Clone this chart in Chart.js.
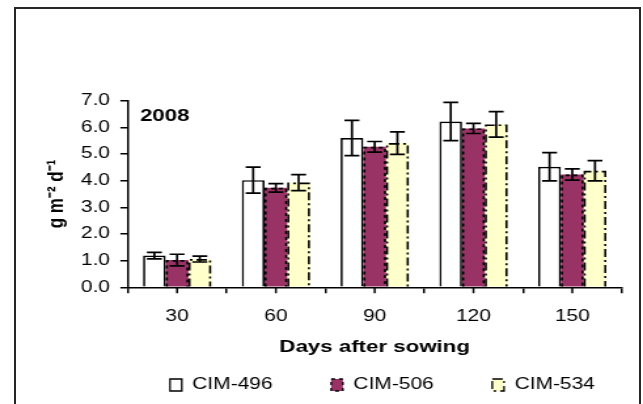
<!DOCTYPE html>
<html>
<head>
<meta charset="utf-8">
<script src="https://cdn.jsdelivr.net/npm/chart.js@4/dist/chart.umd.min.js"></script>
<style>
  html, body { margin: 0; padding: 0; background: #fff; }
  #wrap { position: relative; width: 643px; height: 404px; overflow: hidden; background: #fff; }
  #c { position: absolute; left: 0; top: 0; transform: scaleX(1.30957); transform-origin: 0 0; }
  #frame { position: absolute; left: 14px; top: 7px; width: 627px; height: 430px; border: 2px solid #262626; box-sizing: border-box; pointer-events: none; }
</style>
</head>
<body>
<div id="wrap">
  <canvas id="c" width="491" height="404"></canvas>
  <div id="frame"></div>
</div>
<script>
// ---- data ----
const categories = ['30', '60', '90', '120', '150'];
const seriesNames = ['CIM-496', 'CIM-506', 'CIM-534'];
const cim496 = [1.19, 4.02, 5.60, 6.22, 4.52];
const cim506 = [1.02, 3.73, 5.27, 5.96, 4.23];
const cim534 = [1.06, 3.93, 5.41, 6.11, 4.37];
const cim496Err = [0.12, 0.49, 0.66, 0.72, 0.53];
const cim506Err = [0.22, 0.16, 0.20, 0.19, 0.21];
const cim534Err = [0.11, 0.30, 0.42, 0.48, 0.38];
const yTickLabels = ['0.0', '1.0', '2.0', '3.0', '4.0', '5.0', '6.0', '7.0'];
const xTitle = 'Days after sowing';
const yTitle = 'g m\u207B\u00B2 d\u207B\u00B9';
const panelLabel = '2008';

// ---- styles ----
const FONT = '"Liberation Sans", Arial, sans-serif';
const fills = ['#FFFFFF', '#993366', '#FFFFCC'];
const dashes = [[], [3, 3], [8, 3, 2, 3]];
const errs = [cim496Err, cim506Err, cim534Err];

Chart.defaults.font.family = FONT;
Chart.defaults.font.size = 16;
Chart.defaults.color = '#000';

const extras = {
  id: 'extras',
  afterLayout(chart) {
    const lg = chart.legend;
    if (!lg) return;
    const w = lg.width;
    lg.left = 85.1; lg.right = lg.left + w;
    lg.top = 332.3; lg.bottom = 404; lg.height = lg.bottom - lg.top;
  },
  afterDatasetsDraw(chart) {
    const ctx = chart.ctx;
    const ys = chart.scales.y, xs = chart.scales.x;
    ctx.save();
    ctx.strokeStyle = '#000';
    // dashed outlines for patterned series
    [1, 2].forEach(di => {
      const meta = chart.getDatasetMeta(di);
      const lw = 1.6;
      meta.data.forEach(el => {
        const p = el.getProps(['x', 'y', 'base', 'width'], true);
        const l = p.x - p.width / 2 + lw / 2, r = p.x + p.width / 2 - lw / 2, t = p.y + lw / 2;
        ctx.beginPath();
        ctx.setLineDash(dashes[di]);
        ctx.lineWidth = lw;
        ctx.moveTo(l, p.base); ctx.lineTo(l, t); ctx.lineTo(r, t); ctx.lineTo(r, p.base);
        ctx.stroke();
      });
    });
    ctx.setLineDash([]);
    // error bars
    chart.data.datasets.forEach((ds, di) => {
      const meta = chart.getDatasetMeta(di);
      meta.data.forEach((el, i) => {
        const v = ds.data[i], e = errs[di][i];
        const yh = ys.getPixelForValue(v + e), yl = ys.getPixelForValue(v - e);
        const cx = el.x, hw = 5.7;
        ctx.lineWidth = 1.7;
        ctx.beginPath();
        ctx.moveTo(cx, yh); ctx.lineTo(cx, yl);
        ctx.moveTo(cx - hw, yh); ctx.lineTo(cx + hw, yh);
        ctx.moveTo(cx - hw, yl); ctx.lineTo(cx + hw, yl);
        ctx.stroke();
      });
    });
    // minor tick marks at category centres
    ctx.lineWidth = 1.5;
    ctx.beginPath();
    categories.forEach((c, i) => {
      const px = xs.getPixelForTick(i);
      ctx.moveTo(px, xs.top); ctx.lineTo(px, xs.top + 6);
    });
    ctx.stroke();
    // panel label
    ctx.font = 'bold 17px ' + FONT;
    ctx.fillStyle = '#000';
    ctx.textAlign = 'left';
    ctx.textBaseline = 'middle';
    ctx.fillText(panelLabel, chart.chartArea.left + 9.4, chart.chartArea.top + 16);
    ctx.restore();
  }
};

new Chart(document.getElementById('c'), {
  type: 'bar',
  data: {
    labels: categories,
    datasets: [
      { label: seriesNames[0], data: cim496, backgroundColor: fills[0], borderColor: '#000', borderWidth: 1.7, borderSkipped: 'start' },
      { label: seriesNames[1], data: cim506, backgroundColor: fills[1], borderWidth: 0 },
      { label: seriesNames[2], data: cim534, backgroundColor: fills[2], borderWidth: 0 }
    ]
  },
  options: {
    responsive: false,
    maintainAspectRatio: false,
    animation: false,
    devicePixelRatio: 1,
    datasets: { bar: { categoryPercentage: 0.69, barPercentage: 1.0 } },
    layout: { padding: { left: 20, right: 16.3, top: 100.7, bottom: 0 } },
    plugins: {
      tooltip: { enabled: false },
      legend: {
        position: 'bottom',
        align: 'start',
        maxHeight: 30,
        labels: {
          boxWidth: 9,
          boxHeight: 12,
          padding: 44.7,
          font: { size: 16, family: FONT },
          color: '#000',
          generateLabels(chart) {
            return chart.data.datasets.map((ds, i) => ({
              text: ds.label,
              fillStyle: ds.backgroundColor,
              strokeStyle: '#000',
              lineWidth: 1.3,
              lineDash: dashes[i],
              hidden: false,
              datasetIndex: i
            }));
          }
        }
      }
    },
    scales: {
      x: {
        offset: true,
        grid: { offset: true, drawOnChartArea: false, drawTicks: true, tickLength: 6, color: '#000', lineWidth: 1.5 },
        border: { color: '#000', width: 1.5 },
        ticks: { padding: 13.9, font: { size: 16 }, color: '#000', maxRotation: 0 },
        title: { display: true, text: xTitle, font: { size: 17, weight: 'bold' }, color: '#000', padding: { top: 0, bottom: 16.5 } },
        afterFit(a) { a.height = 86.7; }
      },
      y: {
        min: 0,
        max: 7,
        ticks: { stepSize: 1, padding: 7.9, font: { size: 16 }, color: '#000', callback: (v, i) => yTickLabels[i] },
        grid: { drawOnChartArea: false, drawTicks: true, tickLength: 5.6, color: '#000', lineWidth: 1.5 },
        border: { color: '#000', width: 1.5 },
        title: { display: true, text: yTitle, font: { size: 17, weight: 'bold' }, color: '#000', padding: { top: 13.1, bottom: 0 } },
        afterFit(a) { a.width = 77.5; }
      }
    }
  },
  plugins: [extras]
});
</script>
</body>
</html>
